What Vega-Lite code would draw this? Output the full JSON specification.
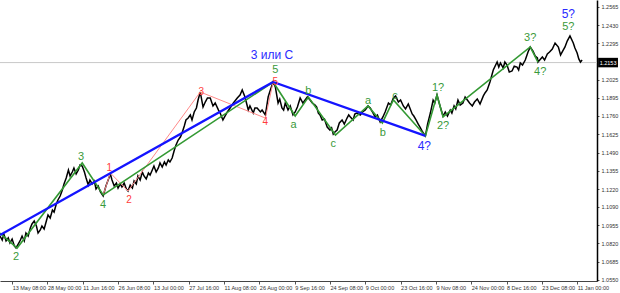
{
  "$schema": "https://vega.github.io/schema/vega-lite/v6.json",
  "width": 597,
  "height": 281,
  "autosize": {"type": "none"},
  "padding": {"left": 0, "top": 0, "right": 23, "bottom": 12},
  "background": "white",
  "config": {"view": {"stroke": null}, "font": "Liberation Sans"},
  "datasets": {
    "price": [
      {"i":-22,"p":1.0874},{"i":-18,"p":1.0845},{"i":-15,"p":1.0889},{"i":-11,"p":1.0838},{"i":-7,"p":1.0860},{"i":-4,"p":1.0823},{"i":0,"p":1.0852},{"i":4,"p":1.0801},{"i":7,"p":1.0786},{"i":11,"p":1.0815},{"i":15,"p":1.0845},{"i":18,"p":1.0874},{"i":22,"p":1.0838},{"i":25,"p":1.0896},{"i":29,"p":1.0874},{"i":33,"p":1.0933},{"i":36,"p":1.0963},{"i":40,"p":1.0985},{"i":44,"p":1.0948},{"i":47,"p":1.0896},{"i":51,"p":1.0919},{"i":54,"p":1.0948},{"i":58,"p":1.0926},{"i":62,"p":1.0985},{"i":65,"p":1.1029},{"i":69,"p":1.1007},{"i":73,"p":1.1066},{"i":76,"p":1.1051},{"i":80,"p":1.1110},{"i":83,"p":1.1140},{"i":87,"p":1.1169},{"i":91,"p":1.1214},{"i":94,"p":1.1258},{"i":98,"p":1.1302},{"i":102,"p":1.1361},{"i":105,"p":1.1317},{"i":109,"p":1.1346},{"i":112,"p":1.1376},{"i":116,"p":1.1332},{"i":120,"p":1.1361},{"i":123,"p":1.1398},{"i":127,"p":1.1390},{"i":131,"p":1.1346},{"i":134,"p":1.1302},{"i":138,"p":1.1250},{"i":141,"p":1.1287},{"i":145,"p":1.1258},{"i":149,"p":1.1280},{"i":152,"p":1.1221},{"i":156,"p":1.1243},{"i":160,"p":1.1199},{"i":165,"p":1.1169},{"i":170,"p":1.1243},{"i":174,"p":1.1287},{"i":178,"p":1.1332},{"i":181,"p":1.1287},{"i":185,"p":1.1243},{"i":189,"p":1.1265},{"i":192,"p":1.1228},{"i":196,"p":1.1258},{"i":199,"p":1.1236},{"i":203,"p":1.1265},{"i":207,"p":1.1221},{"i":210,"p":1.1206},{"i":214,"p":1.1250},{"i":218,"p":1.1228},{"i":221,"p":1.1280},{"i":225,"p":1.1258},{"i":228,"p":1.1317},{"i":232,"p":1.1287},{"i":236,"p":1.1346},{"i":239,"p":1.1317},{"i":243,"p":1.1295},{"i":247,"p":1.1339},{"i":250,"p":1.1324},{"i":254,"p":1.1361},{"i":257,"p":1.1390},{"i":261,"p":1.1346},{"i":265,"p":1.1376},{"i":268,"p":1.1413},{"i":272,"p":1.1383},{"i":276,"p":1.1420},{"i":279,"p":1.1398},{"i":283,"p":1.1435},{"i":286,"p":1.1420},{"i":290,"p":1.1449},{"i":294,"p":1.1508},{"i":297,"p":1.1545},{"i":301,"p":1.1582},{"i":305,"p":1.1604},{"i":308,"p":1.1634},{"i":312,"p":1.1685},{"i":315,"p":1.1730},{"i":319,"p":1.1744},{"i":323,"p":1.1767},{"i":326,"p":1.1730},{"i":330,"p":1.1789},{"i":334,"p":1.1818},{"i":337,"p":1.1877},{"i":341,"p":1.1936},{"i":346,"p":1.1825},{"i":350,"p":1.1862},{"i":354,"p":1.1892},{"i":359,"p":1.1892},{"i":364,"p":1.1833},{"i":368,"p":1.1855},{"i":374,"p":1.1803},{"i":377,"p":1.1781},{"i":382,"p":1.1730},{"i":390,"p":1.1789},{"i":395,"p":1.1818},{"i":401,"p":1.1855},{"i":408,"p":1.1892},{"i":413,"p":1.1914},{"i":417,"p":1.1951},{"i":422,"p":1.1899},{"i":428,"p":1.1803},{"i":431,"p":1.1833},{"i":437,"p":1.1781},{"i":440,"p":1.1818},{"i":444,"p":1.1818},{"i":450,"p":1.1789},{"i":453,"p":1.1803},{"i":459,"p":1.1767},{"i":464,"p":1.1899},{"i":468,"p":1.1951},{"i":473,"p":1.2010},{"i":477,"p":1.1973},{"i":482,"p":1.1855},{"i":485,"p":1.1884},{"i":489,"p":1.1818},{"i":492,"p":1.1803},{"i":495,"p":1.1855},{"i":500,"p":1.1803},{"i":504,"p":1.1833},{"i":509,"p":1.1767},{"i":513,"p":1.1789},{"i":517,"p":1.1825},{"i":522,"p":1.1892},{"i":527,"p":1.1855},{"i":531,"p":1.1877},{"i":535,"p":1.1899},{"i":540,"p":1.1877},{"i":544,"p":1.1855},{"i":549,"p":1.1840},{"i":552,"p":1.1825},{"i":555,"p":1.1781},{"i":558,"p":1.1767},{"i":562,"p":1.1730},{"i":566,"p":1.1737},{"i":571,"p":1.1678},{"i":576,"p":1.1656},{"i":579,"p":1.1671},{"i":582,"p":1.1626},{"i":585,"p":1.1641},{"i":589,"p":1.1656},{"i":593,"p":1.1708},{"i":598,"p":1.1730},{"i":602,"p":1.1700},{"i":607,"p":1.1744},{"i":610,"p":1.1767},{"i":613,"p":1.1752},{"i":618,"p":1.1730},{"i":621,"p":1.1774},{"i":625,"p":1.1781},{"i":631,"p":1.1767},{"i":635,"p":1.1789},{"i":640,"p":1.1803},{"i":645,"p":1.1833},{"i":649,"p":1.1818},{"i":653,"p":1.1789},{"i":658,"p":1.1752},{"i":662,"p":1.1767},{"i":667,"p":1.1715},{"i":672,"p":1.1752},{"i":676,"p":1.1789},{"i":682,"p":1.1855},{"i":686,"p":1.1840},{"i":691,"p":1.1892},{"i":695,"p":1.1907},{"i":700,"p":1.1862},{"i":704,"p":1.1877},{"i":709,"p":1.1833},{"i":713,"p":1.1811},{"i":718,"p":1.1848},{"i":725,"p":1.1774},{"i":728,"p":1.1759},{"i":732,"p":1.1730},{"i":736,"p":1.1700},{"i":740,"p":1.1671},{"i":744,"p":1.1641},{"i":749,"p":1.1612},{"i":753,"p":1.1700},{"i":758,"p":1.1781},{"i":763,"p":1.1877},{"i":766,"p":1.1855},{"i":770,"p":1.1914},{"i":776,"p":1.1825},{"i":781,"p":1.1759},{"i":785,"p":1.1789},{"i":789,"p":1.1759},{"i":794,"p":1.1803},{"i":797,"p":1.1781},{"i":801,"p":1.1833},{"i":804,"p":1.1811},{"i":808,"p":1.1877},{"i":812,"p":1.1840},{"i":817,"p":1.1855},{"i":821,"p":1.1899},{"i":825,"p":1.1877},{"i":829,"p":1.1855},{"i":834,"p":1.1833},{"i":838,"p":1.1862},{"i":843,"p":1.1885},{"i":848,"p":1.1848},{"i":854,"p":1.1907},{"i":857,"p":1.1929},{"i":861,"p":1.1951},{"i":866,"p":1.2010},{"i":872,"p":1.2098},{"i":879,"p":1.2157},{"i":882,"p":1.2120},{"i":885,"p":1.2150},{"i":890,"p":1.2113},{"i":893,"p":1.2157},{"i":897,"p":1.2135},{"i":901,"p":1.2083},{"i":906,"p":1.2091},{"i":910,"p":1.2127},{"i":915,"p":1.2120},{"i":918,"p":1.2098},{"i":921,"p":1.2150},{"i":925,"p":1.2135},{"i":930,"p":1.2172},{"i":935,"p":1.2231},{"i":939,"p":1.2268},{"i":944,"p":1.2238},{"i":948,"p":1.2201},{"i":952,"p":1.2187},{"i":953,"p":1.2157},{"i":961,"p":1.2194},{"i":965,"p":1.2172},{"i":970,"p":1.2216},{"i":974,"p":1.2231},{"i":979,"p":1.2253},{"i":984,"p":1.2297},{"i":990,"p":1.2268},{"i":994,"p":1.2209},{"i":999,"p":1.2246},{"i":1002,"p":1.2268},{"i":1006,"p":1.2312},{"i":1011,"p":1.2349},{"i":1017,"p":1.2297},{"i":1020,"p":1.2260},{"i":1024,"p":1.2224},{"i":1027,"p":1.2180},{"i":1030,"p":1.2157},{"i":1033,"p":1.2172}
    ],
    "waves": [
      {"s":"red","o":0,"i":165,"p":1.1177},{"s":"red","o":1,"i":178,"p":1.1339},{"s":"red","o":2,"i":210,"p":1.1206},{"s":"red","o":3,"i":341,"p":1.1936},{"s":"red","o":4,"i":459,"p":1.1744},{"s":"red","o":5,"i":473,"p":1.2010},
      {"s":"green","o":0,"i":-22,"p":1.0896},{"s":"green","o":1,"i":9,"p":1.0786},{"s":"green","o":2,"i":127,"p":1.1413},{"s":"green","o":3,"i":165,"p":1.1177},{"s":"green","o":4,"i":473,"p":1.2010},{"s":"green","o":5,"i":513,"p":1.1759},{"s":"green","o":6,"i":537,"p":1.1899},{"s":"green","o":7,"i":586,"p":1.1619},{"s":"green","o":8,"i":645,"p":1.1833},{"s":"green","o":9,"i":671,"p":1.1708},{"s":"green","o":10,"i":691,"p":1.1877},{"s":"green","o":11,"i":749,"p":1.1612},{"s":"green","o":12,"i":770,"p":1.1914},{"s":"green","o":13,"i":781,"p":1.1752},{"s":"green","o":14,"i":939,"p":1.2268},{"s":"green","o":15,"i":953,"p":1.2157},
      {"s":"blue","o":0,"i":-22,"p":1.0882},{"s":"blue","o":1,"i":473,"p":1.2010},{"s":"blue","o":2,"i":749,"p":1.1612}
    ],
    "labels": [
      {"s":"blue","t":"3 или С","i":471,"p":1.2209},
      {"s":"blue","t":"4?","i":747,"p":1.1538},
      {"s":"blue","t":"5?","i":1008,"p":1.2511},
      {"s":"green","t":"5?","i":1008,"p":1.2415},
      {"s":"green","t":"3?","i":939,"p":1.2334},
      {"s":"green","t":"4?","i":957,"p":1.2084},
      {"s":"green","t":"1?","i":772,"p":1.1966},
      {"s":"green","t":"2?","i":781,"p":1.1685},
      {"s":"green","t":"a","i":510,"p":1.1693},
      {"s":"green","t":"b","i":537,"p":1.1943},
      {"s":"green","t":"c","i":582,"p":1.1553},
      {"s":"green","t":"a","i":645,"p":1.1870},
      {"s":"green","t":"b","i":672,"p":1.1634},
      {"s":"green","t":"c","i":694,"p":1.1907},
      {"s":"red","t":"5","i":477,"p":1.2010},
      {"s":"green","t":"5","i":477,"p":1.2098},
      {"s":"green","t":"3","i":125,"p":1.1457},
      {"s":"green","t":"4","i":165,"p":1.1103},
      {"s":"green","t":"2","i":7,"p":1.0720},
      {"s":"red","t":"1","i":176,"p":1.1376},
      {"s":"red","t":"2","i":212,"p":1.1140},
      {"s":"red","t":"3","i":343,"p":1.1936},
      {"s":"red","t":"4","i":459,"p":1.1715}
    ],
    "last": [{"i":1062,"i2":1098,"im":1080,"p":1.2188,"p2":1.2118,"pc":1.2153,"t":"1.2153"}]
  },
  "encoding": {
    "x": {
      "field": "i", "type": "quantitative",
      "scale": {"domain": [-22, 1060], "nice": false, "zero": false},
      "axis": {
        "title": null, "grid": false, "orient": "bottom",
        "values": [0,64,128,192,256,320,384,448,512,576,640,704,768,832,896,960,1024],
        "labelExpr": "['13 May 08:00','28 May 00:00','11 Jun 16:00','26 Jun 08:00','13 Jul 00:00','27 Jul 16:00','11 Aug 08:00','26 Aug 00:00','9 Sep 16:00','24 Sep 08:00','9 Oct 00:00','23 Oct 16:00','9 Nov 08:00','24 Nov 00:00','8 Dec 16:00','23 Dec 08:00','11 Jan 00:00'][datum.value/64]",
        "labelAlign": "left", "labelBaseline": "top", "labelFlush": false, "labelOverlap": false,
        "labelFontSize": 5.5, "labelColor": "#333333", "labelPadding": 1,
        "tickSize": 3, "tickColor": "#555555", "domainColor": "#444444", "domainWidth": 1
      }
    },
    "y": {
      "field": "p", "type": "quantitative",
      "scale": {"domain": [1.05426, 1.26144], "nice": false, "zero": false},
      "axis": {
        "title": null, "grid": false, "orient": "right",
        "values": [1.055,1.0685,1.082,1.0955,1.109,1.122,1.1355,1.149,1.1625,1.176,1.1895,1.2025,1.2295,1.243,1.2565],
        "format": ".4f", "labelFontSize": 5.5, "labelColor": "#333333", "labelPadding": 2,
        "tickSize": 2, "tickColor": "#555555", "domainColor": "#000000", "domainWidth": 1.5, "labelFlush": false, "labelOverlap": false
      }
    }
  },
  "layer": [
    {
      "data": {"name": "last"},
      "mark": {"type": "rule", "color": "#c8c8c8", "strokeWidth": 1},
      "encoding": {"x": null, "y": {"field": "pc", "type": "quantitative"}}
    },
    {
      "data": {"name": "price"},
      "mark": {"type": "line", "color": "#000000", "strokeWidth": 1.5}
    },
    {
      "data": {"name": "waves"},
      "transform": [{"filter": "datum.s == 'red'"}],
      "mark": {"type": "line", "color": "#ff8a8a", "strokeWidth": 1},
      "encoding": {"order": {"field": "o", "type": "quantitative"}}
    },
    {
      "data": {"name": "waves"},
      "transform": [{"filter": "datum.s == 'green'"}],
      "mark": {"type": "line", "color": "#339933", "strokeWidth": 1.6},
      "encoding": {"order": {"field": "o", "type": "quantitative"}}
    },
    {
      "data": {"name": "waves"},
      "transform": [{"filter": "datum.s == 'blue'"}],
      "mark": {"type": "line", "color": "#1414ff", "strokeWidth": 2.3},
      "encoding": {"order": {"field": "o", "type": "quantitative"}}
    },
    {
      "data": {"name": "labels"},
      "transform": [{"filter": "datum.s == 'red'"}],
      "mark": {"type": "text", "color": "#ff3b3b", "fontSize": 10, "align": "center", "baseline": "middle"},
      "encoding": {"text": {"field": "t"}}
    },
    {
      "data": {"name": "labels"},
      "transform": [{"filter": "datum.s == 'green'"}],
      "mark": {"type": "text", "color": "#3a9a3a", "fontSize": 11, "align": "center", "baseline": "middle"},
      "encoding": {"text": {"field": "t"}}
    },
    {
      "data": {"name": "labels"},
      "transform": [{"filter": "datum.s == 'blue'"}],
      "mark": {"type": "text", "color": "#2a2aff", "fontSize": 12, "align": "center", "baseline": "middle"},
      "encoding": {"text": {"field": "t"}}
    },
    {
      "data": {"name": "last"},
      "mark": {"type": "rect", "color": "#000000"},
      "encoding": {
        "x": {"field": "i", "type": "quantitative"},
        "x2": {"field": "i2"},
        "y": {"field": "p", "type": "quantitative"},
        "y2": {"field": "p2"}
      }
    },
    {
      "data": {"name": "last"},
      "mark": {"type": "text", "color": "#ffffff", "fontSize": 5.5, "align": "center", "baseline": "middle"},
      "encoding": {
        "x": {"field": "im", "type": "quantitative"},
        "y": {"field": "pc", "type": "quantitative"},
        "text": {"field": "t"}
      }
    }
  ]
}
